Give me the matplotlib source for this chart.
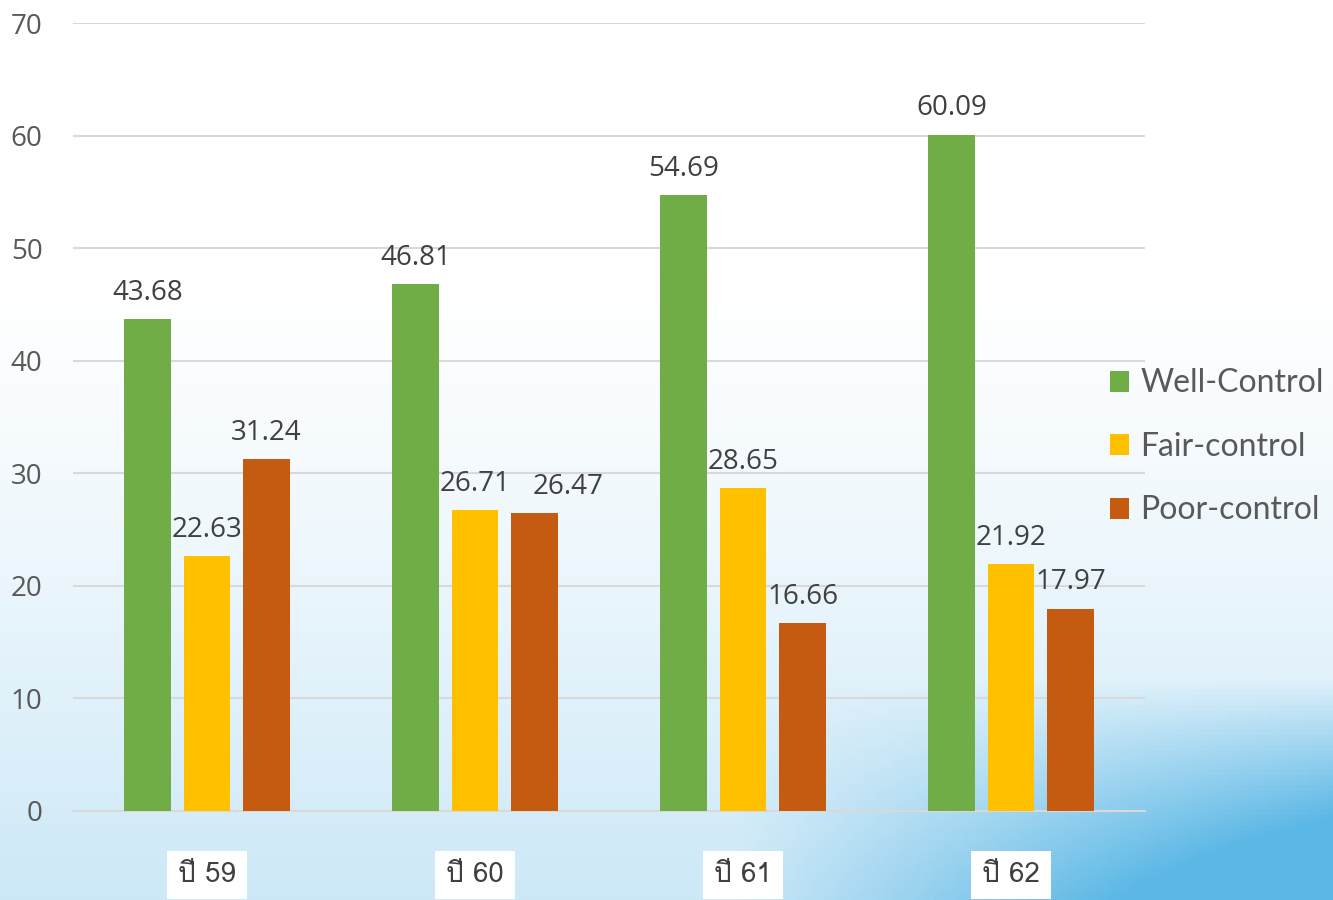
import numpy as np
import matplotlib.pyplot as plt
from matplotlib import font_manager
from matplotlib.ft2font import FT2Font

years = ["ปี 59", "ปี 60", "ปี 61", "ปี 62"]
well = [43.68, 46.81, 54.69, 60.09]
fair = [22.63, 26.71, 28.65, 21.92]
poor = [31.24, 26.47, 16.66, 17.97]
names = ["Well-Control", "Fair-control", "Poor-control"]
colors = ["#70ad47", "#ffc000", "#c55a11"]

# find an installed family that has Thai glyphs
thai = []
for f in font_manager.fontManager.ttflist:
    try:
        ft = FT2Font(f.fname)
        if ft.get_char_index(0x0E1B) and ft.get_char_index(0x0E35):
            if f.name not in thai:
                thai.append(f.name)
    except Exception:
        pass

plt.rcParams['font.family'] = ['Open Sans', 'DejaVu Sans']

fig = plt.figure(figsize=(13.33, 9), dpi=100)

# background: white at top fading to light blue, bluer at bottom right
bg = fig.add_axes([0, 0, 1, 1], zorder=0)
h, w = 180, 267
yy, xx = np.mgrid[0:h, 0:w] / np.array([h, w])[:, None, None]
t = np.clip((yy - 0.3) / 0.7, 0, 1) ** 1.3
t2 = np.clip((yy - 0.75) / 0.25, 0, 1) * np.clip((xx - 0.55) / 0.45, 0, 1)
t2 = np.clip(t2 * 1.6, 0, 1)
top = np.array([1.0, 1.0, 1.0])
mid = np.array([0.80, 0.91, 0.97])
deep = np.array([0.36, 0.72, 0.90])
img = top * (1 - t)[..., None] + mid * t[..., None]
img = img * (1 - t2)[..., None] + deep * t2[..., None]
bg.imshow(img, aspect='auto', extent=[0, 1, 0, 1], origin='upper')
bg.axis('off')

ax = fig.add_axes([0.0548, 0.0989, 0.8042, 0.8755], zorder=1)
ax.patch.set_alpha(0)

x = np.arange(len(years))
bw = 0.175
step = 0.222
# nudge for labels that would collide (series, group): points to the right
nudge = {(2, 1): 24}
for i, (vals, name, c) in enumerate(zip([well, fair, poor], names, colors)):
    pos = x + (i - 1) * step
    bars = ax.bar(pos, vals, width=bw, color=c, label=name, zorder=3)
    for j, (b, v) in enumerate(zip(bars, vals)):
        ax.annotate(f"{v:.2f}", (b.get_x() + b.get_width() / 2, v),
                    xytext=(nudge.get((i, j), 0), 9), textcoords='offset points',
                    ha='center', va='bottom', fontsize=20, color='#404040', zorder=4)

ax.set_xlim(-0.5, 3.5)
ax.set_ylim(0, 70)
ax.set_yticks(range(0, 71, 10))
ax.grid(axis='y', color='#d9d9d9', linewidth=1.5, zorder=0)
for s in ['top', 'right', 'left']:
    ax.spines[s].set_visible(False)
ax.spines['bottom'].set_color('#d9d9d9')
ax.spines['bottom'].set_linewidth(1.5)
ax.tick_params(axis='y', length=0, labelsize=20, labelcolor='#595959', pad=22)
ax.tick_params(axis='x', length=0, pad=0)
ax.set_xticks(x)
ax.set_xticklabels([])
for xi, lab in zip(x, years):
    ax.text(xi, -5.7, lab, ha='center', va='center', fontsize=20, color='#404040',
            family=thai + ['Liberation Sans Narrow', 'DejaVu Sans'],
            bbox=dict(facecolor='white', edgecolor='none', pad=8), clip_on=False)

ax.legend(loc='center left', bbox_to_anchor=(0.946, 0.462), frameon=False,
          prop={'family': 'Lato', 'size': 23}, labelcolor='#595959',
          handlelength=0.62, handleheight=0.62, handletextpad=0.35, labelspacing=1.05,
          borderaxespad=0.3)

fig.savefig("out.png", dpi=100)
